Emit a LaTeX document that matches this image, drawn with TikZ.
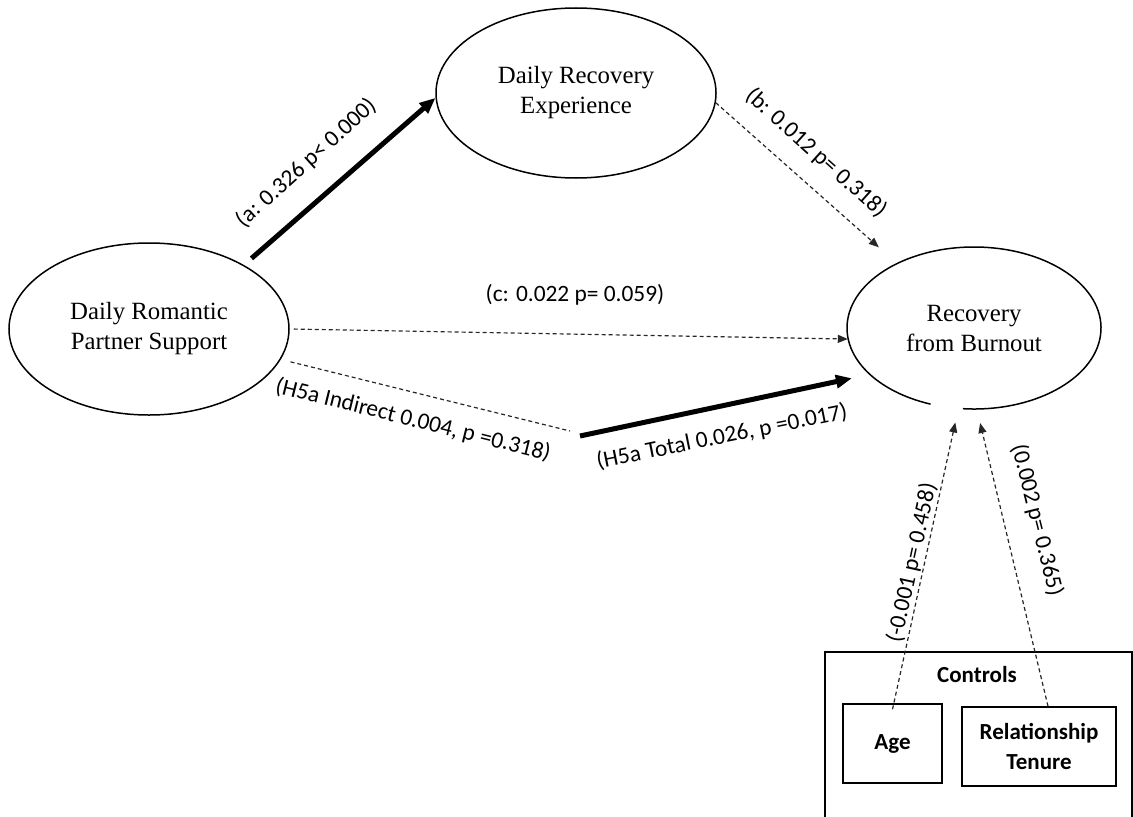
\documentclass[tikz,border=0pt]{standalone}
\usepackage{fontspec}
\setmainfont{Liberation Serif}
\newfontfamily\labelfont{Carlito}
\usetikzlibrary{arrows.meta,shapes.geometric}

\begin{document}
\begin{tikzpicture}[x=0.5pt,y=0.5pt,
  outline/.style={line width=0.75pt},
  construct/.style={ellipse, inner sep=0pt, align=center,
    font=\fontsize{12.4}{15}\selectfont},
  ctrltext/.style={font=\labelfont\bfseries\fontsize{11.5}{15}\selectfont, align=center},
  lab/.style={font=\labelfont\fontsize{11.7}{14}\selectfont, inner sep=0pt},
  strong/.style={line width=2.5pt, -{Triangle[length=8pt,width=6.5pt]}},
  dashline/.style={line width=0.6pt, black!85, dash pattern=on 2pt off 1.5pt},
  weak/.style={dashline, -{Triangle[length=5pt,width=4pt]}}]

\useasboundingbox (0,0) rectangle (1133,816);
\clip (0,0) rectangle (1133,816);

% constructs
\node[construct, draw, outline, minimum width=140pt, minimum height=86pt] (drps) at (149,487) {Daily Romantic\\Partner Support};
\node[construct, draw, outline, minimum width=140pt, minimum height=85pt] (dre) at (576,723) {Daily Recovery\\Experience};
\node[construct, minimum width=127pt, minimum height=81pt] (rfb) at (974,488) {Recovery\\from Burnout};
% outcome outline, open at the bottom
\draw[outline] (rfb.center) ++(265:127 and 81) arc[start angle=265, end angle=610, x radius=127, y radius=81];

% control variables
\node[draw, outline, inner sep=0pt, anchor=north west, minimum width=153.5pt, minimum height=100pt] (ctrl) at (824,165) {};
\node[ctrltext] (ctrllab) at (977,141) {Controls};
\node[draw, outline, ctrltext, minimum width=49.5pt, minimum height=39.5pt] (age) at (892.5,72.5) {Age};
\node[draw, outline, ctrltext, minimum width=77pt, minimum height=39.5pt] (tenure) at (1039,69.5) {Relationship\\Tenure};

% paths
\coordinate (ind) at (570,385);
\coordinate (tot) at (580,380);
\draw[strong, shorten <=5pt] (drps.34) -- (dre.182);
\draw[weak, shorten >=12pt] (dre.-4) -- (rfb.140);
\draw[weak, shorten <=2pt] (drps.east) -- (rfb.185);
\draw[dashline, shorten <=5pt] (drps.-13) -- (ind);
\draw[strong, shorten >=9pt] (tot) -- (rfb.204);
\draw[weak, shorten >=7pt] ([yshift=-3pt]age.north) -- (rfb.259);
\draw[weak, shorten >=7pt] ([xshift=4.5pt]tenure.north) -- (rfb.272);

% coefficients
\node[lab, rotate=42] (la) at (306,653) {(a: 0.326 p< 0.000)};
\node[lab, rotate=-42] (lb) at (816,663) {(b: 0.012 p= 0.318)};
\node[lab] (lc) at (575,521) {(c: 0.022 p= 0.059)};
\node[lab, rotate=-14] (lind) at (413,396) {(H5a Indirect 0.004, p =0.318)};
\node[lab, rotate=11.4] (ltot) at (722,379) {(H5a Total 0.026, p =0.017)};
\node[lab, rotate=77.6] (lage) at (912,253) {(-0.001 p= 0.458)};
\node[lab, rotate=-76] (lten) at (1037,296) {(0.002 p= 0.365)};
\end{tikzpicture}
\end{document}
